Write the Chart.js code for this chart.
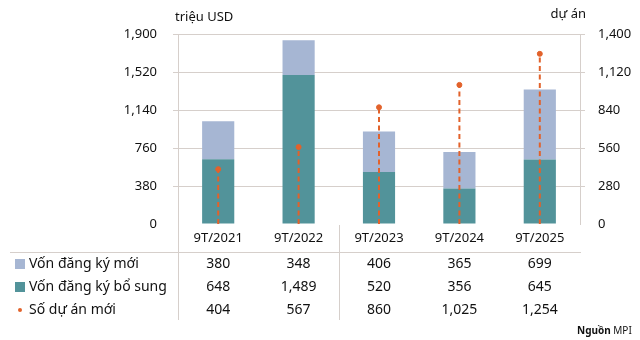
<!DOCTYPE html>
<html>
<head>
<meta charset="utf-8">
<script src="https://cdn.jsdelivr.net/npm/chart.js@4"></script>
<style>
  html, body { margin: 0; padding: 0; background: #fff; }
  #wrap { width: 640px; height: 340px; }
</style>
</head>
<body>
<div id="wrap"><canvas id="chart" width="640" height="340"></canvas></div>
<script>
// data
const periods = ["9T/2021", "9T/2022", "9T/2023", "9T/2024", "9T/2025"];
const vonMoi = [380, 348, 406, 365, 699];        // Vốn đăng ký mới (triệu USD)
const vonBoSung = [648, 1489, 520, 356, 645];    // Vốn đăng ký bổ sung (triệu USD)
const duAnMoi = [404, 567, 860, 1025, 1254];     // Số dự án mới (dự án)

const TEAL = "#52939A";
const LIGHT = "#A6B6D3";
const ORANGE = "#E2622B";
const GRID = "#D6CFCB";
const FONT = "'Noto Sans', sans-serif";

Chart.defaults.font.family = FONT;
Chart.defaults.color = "#111";

const fmt = v => Number(v).toLocaleString("en-US");

// dashed drop line from each project point down to the axis
const dropLines = {
  id: "dropLines",
  beforeDatasetDraw(chart, args) {
    if (args.index !== 2) return;
    const ctx = chart.ctx;
    const bottom = chart.chartArea.bottom;
    ctx.save();
    ctx.strokeStyle = ORANGE;
    ctx.lineWidth = 2;
    ctx.setLineDash([5, 3.5]);
    args.meta.data.forEach(pt => {
      ctx.beginPath();
      ctx.moveTo(pt.x, bottom);
      ctx.lineTo(pt.x, pt.y);
      ctx.stroke();
    });
    ctx.restore();
  }
};

// data table under the chart + axis titles + source
const dataTable = {
  id: "dataTable",
  afterDraw(chart) {
    const ctx = chart.ctx;
    const x = chart.scales.x;
    const area = chart.chartArea;
    ctx.save();

    // axis titles
    ctx.fillStyle = "#111";
    ctx.font = "13px " + FONT;
    ctx.textBaseline = "middle";
    ctx.textAlign = "left";
    ctx.fillText("triệu USD", 175, 17);
    ctx.textAlign = "right";
    ctx.fillText("dự án", 586, 14);

    // table lines
    ctx.strokeStyle = GRID;
    ctx.lineWidth = 1;
    ctx.beginPath();
    ctx.moveTo(10, 252.5);
    ctx.lineTo(area.right + 1, 252.5);
    ctx.moveTo(Math.round(area.left) + 0.5, area.bottom);
    ctx.lineTo(Math.round(area.left) + 0.5, 320);
    const mid = Math.round((x.getPixelForTick(1) + x.getPixelForTick(2)) / 2) + 0.5;
    ctx.moveTo(mid, area.bottom + 1);
    ctx.lineTo(mid, 320);
    ctx.stroke();

    const rows = [
      { label: "Vốn đăng ký mới", data: vonMoi, color: LIGHT, kind: "square" },
      { label: "Vốn đăng ký bổ sung", data: vonBoSung, color: TEAL, kind: "square" },
      { label: "Số dự án mới", data: duAnMoi, color: ORANGE, kind: "dot" }
    ];
    const rowY = [264, 287, 310];
    ctx.font = "14px " + FONT;
    rows.forEach((r, i) => {
      const y = rowY[i];
      ctx.fillStyle = r.color;
      if (r.kind === "square") ctx.fillRect(15, y - 5, 10, 10);
      else { ctx.beginPath(); ctx.arc(20, y, 2, 0, Math.PI * 2); ctx.fill(); }
      ctx.fillStyle = "#111";
      ctx.textAlign = "left";
      ctx.fillText(r.label, 29, y);
      ctx.textAlign = "center";
      r.data.forEach((v, j) => ctx.fillText(fmt(v), x.getPixelForTick(j), y));
    });

    // source
    ctx.textAlign = "left";
    ctx.font = "bold 10px " + FONT;
    ctx.fillText("Nguồn", 577, 331);
    const w = ctx.measureText("Nguồn ").width;
    ctx.font = "10px " + FONT;
    ctx.fillText("MPI", 577 + w, 331);
    ctx.restore();
  }
};

new Chart(document.getElementById("chart"), {
  data: {
    labels: periods,
    datasets: [
      {
        type: "bar",
        label: "Vốn đăng ký bổ sung",
        data: vonBoSung,
        backgroundColor: TEAL,
        stack: "von",
        yAxisID: "y",
        order: 2,
        categoryPercentage: 1,
        barPercentage: 0.4
      },
      {
        type: "bar",
        label: "Vốn đăng ký mới",
        data: vonMoi,
        backgroundColor: LIGHT,
        stack: "von",
        yAxisID: "y",
        order: 2,
        categoryPercentage: 1,
        barPercentage: 0.4
      },
      {
        type: "line",
        label: "Số dự án mới",
        data: duAnMoi,
        yAxisID: "y1",
        showLine: false,
        pointStyle: "circle",
        pointRadius: 2.5,
        pointBackgroundColor: ORANGE,
        pointBorderColor: ORANGE,
        order: 1
      }
    ]
  },
  options: {
    responsive: false,
    animation: false,
    events: [],
    layout: { padding: { top: 34, bottom: 84, left: 0, right: 0 } },
    plugins: { legend: { display: false }, tooltip: { enabled: false } },
    scales: {
      x: {
        stacked: true,
        grid: { display: false, drawTicks: false },
        border: { display: false },
        ticks: { font: { size: 13 }, padding: 6, color: "#111" },
        afterFit: s => { s.height = 32; }
      },
      y: {
        position: "left",
        stacked: true,
        min: 0,
        max: 1900,
        afterBuildTicks: s => { s.ticks = [0, 380, 760, 1140, 1520, 1900].map(v => ({ value: v })); },
        grid: {
          color: c => (c.tick && c.tick.value === 0 ? "rgba(0,0,0,0)" : GRID),
          tickLength: 5
        },
        border: { display: true, color: GRID },
        ticks: { font: { size: 13 }, padding: 16, color: "#111", callback: v => fmt(v) },
        afterFit: s => { s.width = 178; }
      },
      y1: {
        position: "right",
        min: 0,
        max: 1400,
        afterBuildTicks: s => { s.ticks = [0, 280, 560, 840, 1120, 1400].map(v => ({ value: v })); },
        grid: {
          drawOnChartArea: false,
          color: c => (c.tick && c.tick.value === 0 ? "rgba(0,0,0,0)" : GRID),
          tickLength: 5
        },
        border: { display: true, color: GRID },
        ticks: { font: { size: 13 }, padding: 13, color: "#111", callback: v => fmt(v) },
        afterFit: s => { s.width = 60; }
      }
    }
  },
  plugins: [dropLines, dataTable]
});
</script>
</body>
</html>
